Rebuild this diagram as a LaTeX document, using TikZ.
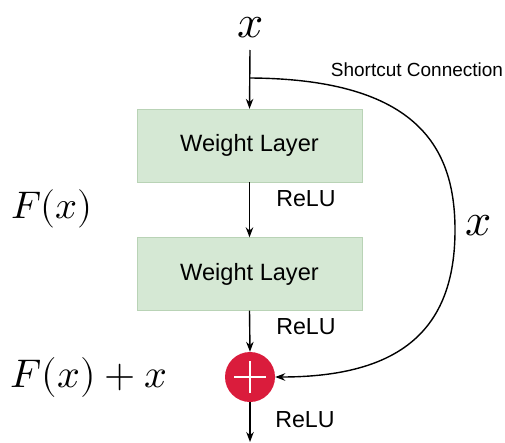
\documentclass[tikz,border=0pt]{standalone}
\usepackage{fontspec}
\setmainfont{Liberation Sans}
\usepackage{unicode-math}
\setmathfont{Latin Modern Math}
\usetikzlibrary{arrows.meta}
\definecolor{boxfill}{HTML}{D5E8D4}
\definecolor{boxline}{HTML}{B9D3B6}
\definecolor{addred}{RGB}{218,28,60}
\begin{document}
\begin{tikzpicture}[x=1pt,y=-1pt,
  layer/.style={draw=boxline,fill=boxfill,minimum width=225pt,minimum height=73pt,inner sep=0pt,
    font=\fontsize{23.6}{28}\selectfont},
  lbl/.style={font=\fontsize{23.2}{27}\selectfont,inner sep=0pt},
  bigmath/.style={font=\fontsize{42}{48}\selectfont,inner sep=0pt},
  conn/.style={line width=1.4pt,-{Stealth[length=10pt,width=7.5pt]}}]
\useasboundingbox (0,0) rectangle (505,442);
\node[bigmath,font=\fontsize{46}{52}\selectfont] (xin) at (251,28) {$x$};
\coordinate (xs) at (250,50);
\coordinate (br) at (250,78);
\node[layer] (w1) at (249.5,145.5) {Weight Layer};
\node[layer] (w2) at (249.5,274) {Weight Layer};
\node[circle,fill=addred,minimum size=50pt,inner sep=0pt] (add) at (250,377) {};
\draw[white,line width=2.8pt] ([xshift=-16pt]add.center) -- ([xshift=16pt]add.center)
  ([yshift=-16pt]add.center) -- ([yshift=16pt]add.center);
\coordinate (out) at (250,442);
\draw[conn] (xs) -- (w1.north);
\draw[conn] (w1.south) -- (w2.north);
\draw[conn] (w2.south) -- (add.north);
\draw[conn] (add.south) -- (out);
\draw[conn] (br) .. controls (420,79) and (455,150) .. (455,230)
  .. controls (455,330) and (400,377) .. (add.east);
\node[font=\fontsize{19}{22}\selectfont,inner sep=0pt] (sc) at (417,70) {Shortcut Connection};
\node[lbl] (r1) at (306,199) {ReLU};
\node[lbl] (r2) at (306,327) {ReLU};
\node[lbl] (r3) at (305,420) {ReLU};
\node[bigmath,font=\fontsize{38.5}{44}\selectfont] (fx) at (52,209) {$F(x)$};
\node[bigmath,font=\fontsize{46}{52}\selectfont] (xr) at (479,226) {$x$};
\node[bigmath,font=\fontsize{40}{46}\selectfont] (fxx) at (89,377) {$F(x)+x$};
\end{tikzpicture}
\end{document}
